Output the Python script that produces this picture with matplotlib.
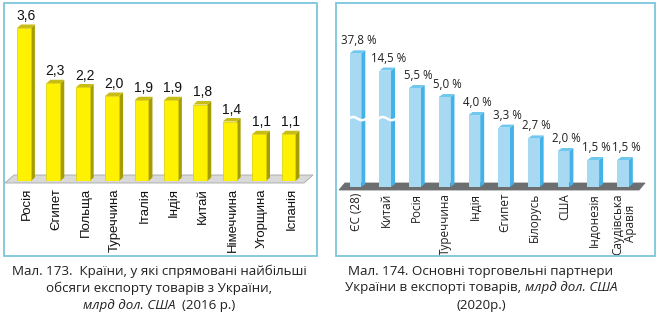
import matplotlib
matplotlib.use("Agg")
import matplotlib.pyplot as plt
import numpy as np
from matplotlib.patches import Polygon, Rectangle
from matplotlib.transforms import IdentityTransform

W, H, DPI = 668, 322, 100

# Мал. 173: експорт товарів з України, млрд дол. США (2016 р.)
exp_countries = ["Росія", "Єгипет", "Польща", "Туреччина", "Італія",
                 "Індія", "Китай", "Німеччина", "Угорщина", "Іспанія"]
exp_values = [3.6, 2.3, 2.2, 2.0, 1.9, 1.9, 1.8, 1.4, 1.1, 1.1]

# Мал. 174: торговельні партнери України в експорті (2020 р.), %
partners = ["ЄС (28)", "Китай", "Росія", "Туреччина", "Індія",
            "Єгипет", "Білорусь", "США", "Індонезія", "Саудівська\nАравія"]
partner_shares = [37.8, 14.5, 5.5, 5.0, 4.0, 3.3, 2.7, 2.0, 1.5, 1.5]

CUT = 5.5        # above this the scale is compressed (broken bars)
CUT_MARK = 3.8   # where the break sign is drawn on broken bars

SANS = "Liberation Sans"
BOOK = "Open Sans"
FRAME = "#7cc6dc"


def fwd(y):
    y = np.asarray(y, dtype=float)
    return np.where(y <= CUT, y, CUT + np.log(np.maximum(y, CUT) / CUT))


def inv(t):
    t = np.asarray(t, dtype=float)
    return np.where(t <= CUT, t, CUT * np.exp(np.minimum(t, 50) - CUT))


def px_axes(fig, x0, x1, ybase, ytop):
    """axes given in pixels from the top-left corner"""
    return fig.add_axes([x0 / W, 1 - ybase / H, (x1 - x0) / W, (ybase - ytop) / H])


def extrude(ax, bars, dx, dy, side, top):
    """side and top faces for the pseudo-3D bars"""
    for b in bars:
        bb = b.get_window_extent()
        x0, y0, x1, y1 = bb.x0, bb.y0, bb.x1, bb.y1
        ax.add_patch(Polygon([(x1, y0), (x1 + dx, y0 + dy), (x1 + dx, y1 + dy), (x1, y1)],
                             closed=True, fc=side, ec="none", transform=IdentityTransform(),
                             clip_on=False, zorder=2))
        ax.add_patch(Polygon([(x0, y1), (x0 + dx, y1 + dy), (x1 + dx, y1 + dy), (x1, y1)],
                             closed=True, fc=top, ec="none", transform=IdentityTransform(),
                             clip_on=False, zorder=2))


def floor(ax, x0, x1, below, above, slant, fc, ec):
    base = ax.transData.transform((0, 0))[1]
    pts = [(x0, base - below), (x0 + slant, base + above),
           (x1, base + above), (x1 - slant, base - below)]
    ax.add_patch(Polygon(pts, closed=True, fc=fc, ec=ec, lw=0.6,
                         transform=IdentityTransform(), clip_on=False, zorder=1))


def mixed_line(fig, parts, xc, yc, size):
    """one centred caption line made of regular and italic pieces"""
    r = fig.canvas.get_renderer()
    texts = [fig.text(0, 1 - yc / H, s, fontstyle=st, fontsize=size, family=BOOK,
                      ha="left", va="center", color="#231f20") for s, st in parts]
    widths = [t.get_window_extent(r).width for t in texts]
    x = xc - sum(widths) / 2
    for t, w in zip(texts, widths):
        t.set_x(x / W)
        x += w


fig = plt.figure(figsize=(W / DPI, H / DPI), dpi=DPI)

# frames
for x0, x1 in [(4, 317), (336, 655)]:
    fig.patches.append(Rectangle((x0 / W, 1 - 256 / H), (x1 - x0) / W, 253 / H,
                                 transform=fig.transFigure, fill=False, ec=FRAME, lw=1.3))

# left chart
ax1 = px_axes(fig, 5, 313, 181, 4)
ax1.axis("off")
ax1.set_xlim(-0.646, 9.834)
ax1.set_ylim(0, 177 / 42.5)
x = np.arange(len(exp_values))
bars1 = ax1.bar(x, exp_values, width=0.47, color="#fff200", edgecolor="#d9cc00",
                linewidth=0.5, zorder=3)
for i, v in enumerate(exp_values):
    ax1.annotate(f"{v:.1f}".replace(".", ","), xy=(i, v), xytext=(2, 5),
                 textcoords="offset pixels", ha="center", va="bottom",
                 fontsize=10, family=SANS, color="#111111")
    ax1.annotate(exp_countries[i], xy=(i, 0), xytext=(3, -7), textcoords="offset pixels",
                 rotation=90, ha="center", va="top", fontsize=9.5, family=SANS,
                 color="#111111")

# right chart
ax2 = px_axes(fig, 339, 645, 187, 5)
ax2.axis("off")
ax2.set_yscale("function", functions=(fwd, inv))
ax2.set_xlim(-0.555, 9.74)
ax2.set_ylim(0, float(inv(182 / 18)))
x = np.arange(len(partner_shares))
bars2 = ax2.bar(x, partner_shares, width=0.39, color="#a8d9f2", edgecolor="none", zorder=3)
for i, v in enumerate(partner_shares):
    ax2.annotate(f"{v:.1f} %".replace(".", ","), xy=(i, v), xytext=(3, 6),
                 textcoords="offset pixels", ha="center", va="bottom",
                 fontsize=8.3, family=BOOK, color="#231f20")
    ax2.annotate(partners[i], xy=(i, 0), xytext=(1, -6), textcoords="offset pixels",
                 rotation=90, ha="center", va="top", ma="center", fontsize=8.5,
                 family=BOOK, color="#231f20", linespacing=0.9)

fig.canvas.draw()
extrude(ax1, bars1, 4, 3.5, "#a59c00", "#c7bd16")
extrude(ax2, bars2, 4, 3, "#42b2e8", "#70c8ef")
floor(ax1, 5, 313, 2, 6, 9, "#d9d9d9", "#a6a6a6")
floor(ax2, 339, 645, 3, 4, 6, "#6d6e70", "#6d6e70")

# break sign on the bars cut by the scale
for b, v in zip(bars2, partner_shares):
    if v > CUT * 2:
        bb = b.get_window_extent()
        yb = ax2.transData.transform((0, CUT_MARK))[1]
        xs = np.linspace(bb.x0 - 1, bb.x1 + 5, 30)
        ys = yb + 1.6 * np.sin(np.linspace(0, 2 * np.pi, 30))
        ax2.plot(xs, ys, color="white", lw=1.8, transform=IdentityTransform(),
                 clip_on=False, zorder=4)

# captions
mixed_line(fig, [("Мал. 173.  Країни, у які спрямовані найбільші", "normal")], 159, 271, 9.6)
mixed_line(fig, [("обсяги експорту товарів з України,", "normal")], 159, 288, 9.6)
mixed_line(fig, [("млрд дол. США", "italic"), ("  (2016 р.)", "normal")], 159, 305, 9.6)
mixed_line(fig, [("Мал. 174. Основні торговельні партнери", "normal")], 481, 271, 9.6)
mixed_line(fig, [("України в експорті товарів, ", "normal"), ("млрд дол. США", "italic")],
           481, 288, 9.6)
mixed_line(fig, [("(2020р.)", "normal")], 481, 305, 9.6)

fig.savefig("out.png", dpi=DPI)
